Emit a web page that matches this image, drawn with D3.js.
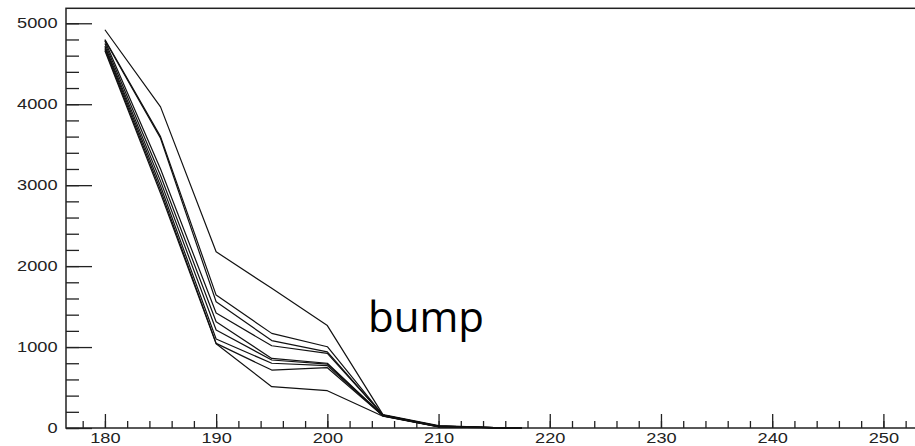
<!DOCTYPE html>
<html>
<head>
<meta charset="utf-8">
<script src="https://cdn.jsdelivr.net/npm/d3@7"></script>
<style>
  html, body { margin: 0; padding: 0; background: #fff; overflow: hidden; }
  svg { display: block; }
  .axis text { font-family: "Liberation Sans", Arial, sans-serif; font-size: 14px; fill: #222; }
  .axis line { stroke: #222; stroke-width: 1.3; }
</style>
</head>
<body>
<svg id="chart" width="915" height="446"></svg>
<script>
// Sample positions along the x axis
const xValues = [180, 185, 190, 195, 200, 205, 210, 215, 217.5];

// One curve per run
const run1 = [4920, 3967, 2177, 1725, 1265, 165, 30, 6, 0];
const run2 = [4800, 3600, 1642, 1169, 1004, 160, 25, 5, 0];
const run3 = [4790, 3580, 1559, 1080, 940, 158, 24, 5, 0];
const run4 = [4780, 3200, 1420, 1016, 922, 160, 22, 4, 0];
const run5 = [4750, 3120, 1312, 860, 800, 155, 20, 4, 0];
const run6 = [4720, 3050, 1210, 840, 790, 150, 18, 3, 0];
const run7 = [4700, 2990, 1100, 800, 770, 152, 18, 3, 0];
const run8 = [4680, 2940, 1045, 716, 745, 150, 16, 3, 0];
const run9 = [4660, 2900, 1040, 510, 461, 145, 14, 2, 0];
const runs = [run1, run2, run3, run4, run5, run6, run7, run8, run9];

// Axis ticks
const xMajorTicks = [180, 190, 200, 210, 220, 230, 240, 250];
const xMinorTicks = d3.range(178, 256, 2);
const yMajorTicks = [0, 1000, 2000, 3000, 4000, 5000];
const yMinorTicks = d3.range(0, 5200, 200);

const annotation = "bump";

const svg = d3.select("#chart");
const plotLeft = 66, plotTop = 8.3, plotBottom = 428, plotRight = 939;

const x = d3.scaleLinear().domain([176.5, 255]).range([plotLeft, plotRight]);
const y = d3.scaleLinear().domain([0, 5185]).range([plotBottom, plotTop]);

// Minor ticks first, majors with labels on top
svg.append("g").attr("class", "axis")
  .attr("transform", `translate(0,${plotBottom})`)
  .call(d3.axisBottom(x).tickValues(xMinorTicks).tickSizeInner(-7).tickSizeOuter(0).tickFormat(""))
  .call(g => g.select(".domain").remove());

svg.append("g").attr("class", "axis")
  .attr("transform", `translate(0,${plotBottom})`)
  .call(d3.axisBottom(x).tickValues(xMajorTicks).tickSizeInner(-14).tickSizeOuter(0).tickPadding(5).tickFormat(d3.format("d")))
  .call(g => g.select(".domain").remove())
  .call(g => g.selectAll("text").attr("transform", "scale(1.3,1)"));

svg.append("g").attr("class", "axis")
  .attr("transform", `translate(${plotLeft},0)`)
  .call(d3.axisLeft(y).tickValues(yMinorTicks).tickSizeInner(-13).tickSizeOuter(0).tickFormat(""))
  .call(g => g.select(".domain").remove());

svg.append("g").attr("class", "axis")
  .attr("transform", `translate(${plotLeft},0)`)
  .call(d3.axisLeft(y).tickValues(yMajorTicks).tickSizeInner(-26).tickSizeOuter(0).tickPadding(6.5).tickFormat(d3.format("d")))
  .call(g => g.select(".domain").remove())
  .call(g => g.selectAll("text").attr("transform", "scale(1.3,1)"));

// Frame
svg.append("rect")
  .attr("x", plotLeft).attr("y", plotTop)
  .attr("width", plotRight - plotLeft).attr("height", plotBottom - plotTop)
  .attr("fill", "none").attr("stroke", "#222").attr("stroke-width", 1.5);

// Curves
const line = d3.line()
  .x((d, i) => x(xValues[i]))
  .y(d => y(d));

svg.append("g")
  .selectAll("path")
  .data(runs)
  .join("path")
  .attr("d", line)
  .attr("fill", "none")
  .attr("stroke", "#111")
  .attr("stroke-width", 1.2)
  .attr("stroke-linejoin", "round");

// Annotation
svg.append("text")
  .attr("x", 368).attr("y", 332)
  .attr("font-family", "'Open Sans', sans-serif")
  .attr("font-size", 42)
  .attr("fill", "#000")
  .text(annotation);
</script>
</body>
</html>
